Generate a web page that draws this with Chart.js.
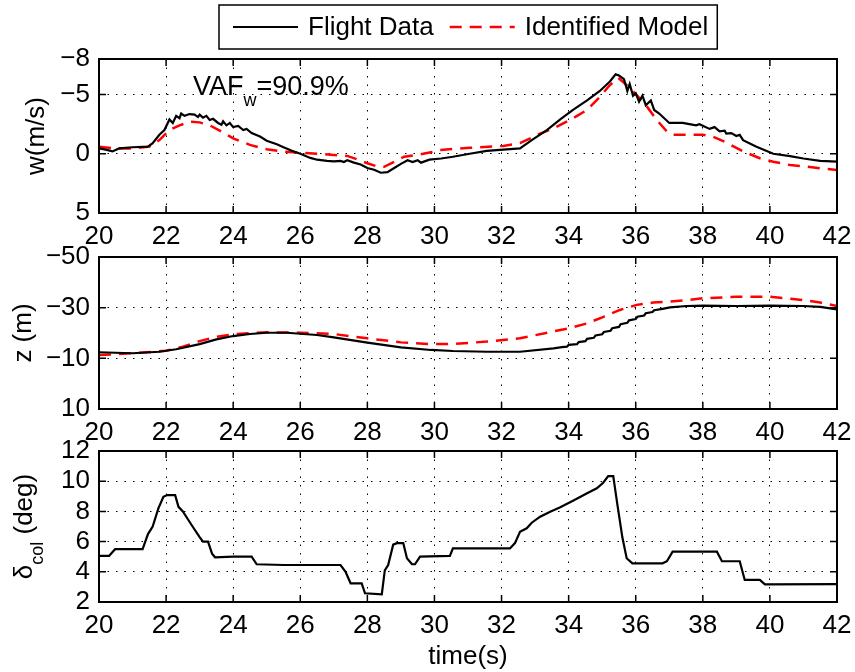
<!DOCTYPE html>
<html>
<head>
<meta charset="utf-8">
<script src="https://cdn.jsdelivr.net/npm/chart.js@4.4.0/dist/chart.umd.min.js"></script>
<style>
  body { margin: 0; background: #fff; }
  #wrap { position: relative; width: 855px; height: 672px; }
  #wrap canvas { position: absolute; left: 0; top: 0; }
</style>
</head>
<body>
<div id="wrap">
  <canvas id="chartW" width="855" height="672"></canvas>
  <canvas id="chartZ" width="855" height="672"></canvas>
  <canvas id="chartCol" width="855" height="672"></canvas>
</div>
<script>
// time axis
const timeMin = 20, timeMax = 42, timeStep = 2;

// tick labels on the y axes
const wTicks = [-8, -5, 0, 5];
const zTicks = [-50, -30, -10, 10];
const colTicks = [2, 4, 6, 8, 10, 12];

// vertical velocity w (m/s), [time, value]
const wFlight = [
  [20.0,-0.45],[20.2,-0.35],[20.4,-0.2],[20.6,-0.45],[21.0,-0.55],[21.46,-0.6],[21.6,-0.9],[21.8,-1.6],
  [21.95,-2.0],[22.1,-2.9],[22.2,-2.6],[22.3,-3.2],[22.4,-3.0],[22.45,-3.4],[22.55,-3.2],[22.7,-3.35],
  [22.85,-3.3],[22.95,-3.1],[23.0,-3.3],[23.1,-3.05],[23.2,-3.2],[23.3,-2.85],[23.4,-2.95],[23.55,-2.6],
  [23.65,-2.45],[23.7,-2.75],[23.8,-2.4],[23.9,-2.6],[24.0,-2.25],[24.15,-2.35],[24.3,-2.0],[24.4,-2.1],
  [24.55,-1.75],[24.8,-1.45],[25.0,-1.1],[25.3,-0.8],[25.5,-0.55],[25.75,-0.25],[26.0,0.0],[26.3,0.35],
  [26.5,0.5],[26.8,0.6],[27.0,0.65],[27.2,0.6],[27.3,0.7],[27.4,0.55],[27.6,0.75],[27.8,0.9],[28.0,1.2],
  [28.2,1.35],[28.4,1.6],[28.6,1.55],[28.8,1.2],[29.0,0.85],[29.2,0.55],[29.35,0.7],[29.5,0.55],
  [29.6,0.75],[29.85,0.5],[30.2,0.4],[30.55,0.25],[31.05,0.0],[31.56,-0.25],[32.05,-0.35],[32.55,-0.45],
  [32.9,-1.15],[33.35,-2.0],[33.75,-2.9],[34.13,-3.7],[34.55,-4.5],[34.93,-5.3],[35.23,-6.1],[35.4,-6.7],
  [35.5,-6.6],[35.65,-6.3],[35.75,-5.3],[35.82,-5.9],[35.92,-4.9],[36.0,-5.1],[36.1,-4.4],[36.2,-4.9],
  [36.3,-4.1],[36.45,-4.5],[36.55,-3.7],[36.7,-3.4],[37.0,-2.6],[37.4,-2.6],[37.6,-2.5],[37.8,-2.4],
  [37.9,-2.5],[38.2,-2.1],[38.35,-2.25],[38.5,-1.9],[38.65,-1.95],[38.7,-1.7],[38.85,-1.75],[39.0,-1.5],
  [39.1,-1.6],[39.2,-1.15],[39.6,-0.6],[40.1,0.0],[40.6,0.2],[41.0,0.4],[41.5,0.6],[42.0,0.67]
];
const wModel = [
  [20.0,-0.6],[20.5,-0.45],[21.0,-0.45],[21.5,-0.6],[21.8,-1.15],[22.1,-2.0],[22.4,-2.4],[22.7,-2.7],
  [23.0,-2.65],[23.3,-2.4],[23.6,-1.95],[24.0,-1.3],[24.5,-0.75],[25.0,-0.38],[25.5,-0.18],[26.0,-0.1],
  [26.5,0.0],[27.0,0.1],[27.4,0.18],[27.7,0.47],[28.0,0.8],[28.3,1.08],[28.5,1.1],[28.8,0.67],[29.1,0.25],
  [29.5,0.1],[29.85,-0.1],[30.17,-0.32],[31.05,-0.5],[32.05,-0.66],[32.55,-0.9],[33.15,-1.7],[33.55,-2.15],
  [34.04,-2.85],[34.55,-3.7],[34.93,-4.8],[35.23,-5.8],[35.48,-6.4],[35.73,-5.8],[36.03,-4.96],[36.33,-4.0],
  [36.63,-2.85],[36.93,-1.87],[37.1,-1.6],[37.52,-1.6],[38.0,-1.6],[38.3,-1.45],[38.7,-0.95],[39.2,-0.2],
  [39.7,0.38],[40.1,0.67],[40.6,0.95],[41.1,1.09],[41.5,1.22],[42.0,1.37]
];

// height z (m), [time, value]
const zFlight = [
  [20.0,-12.4],[21.0,-12.0],[21.8,-12.6],[22.3,-13.6],[23.0,-15.6],[23.5,-17.5],[24.0,-18.8],[24.5,-19.6],
  [25.0,-20.1],[25.6,-20.1],[26.5,-19.2],[27.0,-18.3],[28.0,-16.2],[29.0,-14.3],[29.9,-13.3],[30.55,-12.9],
  [31.56,-12.6],[32.55,-12.6],[33.55,-13.9],[33.8,-14.4],[33.95,-14.6],[34.0,-15.3],[34.25,-15.6],
  [34.3,-16.4],[34.5,-16.8],[34.55,-17.7],[34.75,-18.1],[34.8,-19.0],[35.0,-19.5],[35.05,-20.4],
  [35.25,-20.9],[35.3,-21.9],[35.5,-22.4],[35.55,-23.5],[35.75,-24.0],[35.8,-25.0],[36.0,-25.5],
  [36.05,-26.4],[36.25,-26.9],[36.3,-27.8],[36.5,-28.3],[36.55,-29.0],[36.8,-29.5],[37.02,-30.1],
  [37.52,-30.65],[38.0,-30.8],[39.0,-30.65],[40.0,-30.8],[41.0,-30.65],[41.5,-30.3],[42.0,-29.3]
];
const zModel = [
  [20.0,-11.3],[21.0,-12.0],[22.0,-13.0],[22.5,-14.6],[23.0,-16.8],[23.5,-18.5],[24.0,-19.5],[25.0,-20.3],
  [26.0,-20.1],[27.0,-19.6],[28.0,-17.9],[29.0,-16.3],[29.85,-15.65],[30.55,-15.65],[31.56,-16.6],
  [32.55,-17.9],[33.5,-20.5],[34.0,-21.8],[34.55,-23.8],[35.04,-26.4],[35.53,-29.1],[36.03,-31.1],
  [36.52,-32.0],[37.02,-32.4],[37.52,-33.0],[38.0,-33.7],[39.0,-34.3],[40.0,-34.3],[40.5,-33.7],
  [41.0,-33.0],[41.5,-32.0],[42.0,-30.65]
];

// collective input delta_col (deg), [time, value]
const deltaCol = [
  [20.0,5.05],[20.3,5.05],[20.48,5.5],[21.3,5.5],[21.46,6.5],[21.6,7.0],[21.77,8.2],[21.92,8.97],
  [22.03,9.08],[22.27,9.08],[22.37,8.3],[22.5,8.0],[22.76,7.1],[23.0,6.3],[23.1,6.0],[23.25,6.0],
  [23.37,5.2],[23.46,4.96],[24.0,5.0],[24.55,5.0],[24.7,4.5],[25.5,4.45],[27.2,4.45],[27.35,4.0],
  [27.5,3.24],[27.83,3.24],[27.93,2.58],[28.43,2.5],[28.52,4.1],[28.62,4.45],[28.77,5.8],[28.88,5.9],
  [29.07,5.9],[29.18,4.9],[29.33,4.5],[29.42,4.5],[29.57,5.0],[30.46,5.05],[30.55,5.55],[32.25,5.55],
  [32.4,5.9],[32.55,6.65],[32.75,6.88],[32.9,7.25],[33.15,7.65],[33.45,7.98],[33.75,8.27],[34.13,8.7],
  [34.55,9.2],[34.84,9.53],[35.03,9.9],[35.18,10.34],[35.33,10.34],[35.45,8.5],[35.6,6.3],[35.73,4.9],
  [35.9,4.56],[36.8,4.56],[36.93,4.7],[37.1,5.33],[38.42,5.33],[38.57,4.7],[39.1,4.7],[39.25,3.46],
  [39.7,3.46],[39.85,3.17],[42.0,3.19]
];

const seriesNames = ["Flight Data", "Identified Model"];
const vafText = ["VAF", "w", "=90.9%"];

const FONT = "'Liberation Sans', Arial, Helvetica, sans-serif";
Chart.defaults.font.family = FONT;
Chart.defaults.color = "#000";

const W = 855, H = 672;
const plotLeft = 99, plotRight = 837;

function pts(arr) {
  return arr.map(p => ({ x: p[0], y: p[1] }));
}
function flightSet(arr) {
  return { label: seriesNames[0], data: pts(arr), borderColor: "#000", borderWidth: 2.2,
           pointRadius: 0, tension: 0, fill: false };
}
function modelSet(arr) {
  return { label: seriesNames[1], data: pts(arr), borderColor: "#ff0000", borderWidth: 2.5,
           borderDash: [12, 8], pointRadius: 0, tension: 0, fill: false };
}
function fmt(v) {
  return String(v).replace("-", "\u2212");
}

// box round the plot with the small inward ticks on all four sides
const framePlugin = {
  id: "frame",
  afterDatasetsDraw(chart) {
    const { ctx, chartArea: a, scales } = chart;
    const len = 7;
    ctx.save();
    ctx.strokeStyle = "#000";
    ctx.lineWidth = 1.5;
    ctx.beginPath();
    scales.x.ticks.forEach(t => {
      const px = scales.x.getPixelForValue(t.value);
      ctx.moveTo(px, a.bottom); ctx.lineTo(px, a.bottom - len);
      ctx.moveTo(px, a.top); ctx.lineTo(px, a.top + len);
    });
    scales.y.ticks.forEach(t => {
      const py = scales.y.getPixelForValue(t.value);
      ctx.moveTo(a.left, py); ctx.lineTo(a.left + len, py);
      ctx.moveTo(a.right, py); ctx.lineTo(a.right - len, py);
    });
    ctx.stroke();
    ctx.lineWidth = 2;
    ctx.strokeRect(a.left, a.top, a.right - a.left, a.bottom - a.top);
    ctx.restore();
  }
};

// rotated y title with optional subscript parts
const yTitlePlugin = {
  id: "yTitle",
  afterDraw(chart, args, o) {
    const { ctx, chartArea: a } = chart;
    const main = "26px " + FONT, sub = "18px " + FONT;
    ctx.save();
    ctx.fillStyle = "#000";
    ctx.textBaseline = "alphabetic";
    ctx.textAlign = "left";
    let total = 0;
    o.parts.forEach(p => { ctx.font = p.sub ? sub : main; total += ctx.measureText(p.text).width; });
    ctx.translate(o.x, (a.top + a.bottom) / 2);
    ctx.rotate(-Math.PI / 2);
    let cx = -total / 2;
    o.parts.forEach(p => {
      ctx.font = p.sub ? sub : main;
      ctx.fillText(p.text, cx, p.sub ? 11 : 0);
      cx += ctx.measureText(p.text).width;
    });
    ctx.restore();
  }
};

// legend with a box, drawn above the first panel
const legendPlugin = {
  id: "boxLegend",
  afterDraw(chart, args, o) {
    const ctx = chart.ctx;
    const dsets = chart.data.datasets;
    ctx.save();
    ctx.font = "26px " + FONT;
    const lineLen = 65, padL = 14, gapLine = 10, gapItem = 16, padR = 9;
    let width = padL + padR;
    dsets.forEach((d, i) => {
      width += lineLen + gapLine + ctx.measureText(d.label).width + (i < dsets.length - 1 ? gapItem : 0);
    });
    const cxBox = (chart.chartArea.left + chart.chartArea.right) / 2;
    const left = Math.round(cxBox - width / 2);
    const top = o.top, height = o.height, mid = top + height / 2;
    ctx.fillStyle = "#fff";
    ctx.fillRect(left, top, width, height);
    ctx.strokeStyle = "#000";
    ctx.lineWidth = 1.5;
    ctx.strokeRect(left, top, width, height);
    let x = left + padL;
    dsets.forEach((d, i) => {
      ctx.save();
      ctx.strokeStyle = d.borderColor;
      ctx.lineWidth = d.borderWidth;
      ctx.setLineDash(d.borderDash || []);
      ctx.beginPath();
      ctx.moveTo(x, mid); ctx.lineTo(x + lineLen, mid);
      ctx.stroke();
      ctx.restore();
      x += lineLen + gapLine;
      ctx.fillStyle = "#000";
      ctx.textBaseline = "middle";
      ctx.fillText(d.label, x, mid + 1);
      x += ctx.measureText(d.label).width + gapItem;
    });
    ctx.restore();
  }
};

// VAF annotation, placed in data coordinates
const vafPlugin = {
  id: "vaf",
  afterDraw(chart, args, o) {
    const { ctx, scales } = chart;
    let x = scales.x.getPixelForValue(o.t);
    const y = scales.y.getPixelForValue(o.v);
    ctx.save();
    ctx.fillStyle = "#000";
    ctx.textBaseline = "alphabetic";
    ctx.font = "27px " + FONT;
    ctx.fillText(vafText[0], x, y);
    x += ctx.measureText(vafText[0]).width;
    ctx.font = "18px " + FONT;
    ctx.fillText(vafText[1], x, y + 11);
    x += ctx.measureText(vafText[1]).width;
    ctx.font = "27px " + FONT;
    ctx.fillText(vafText[2], x, y);
    ctx.restore();
  }
};

function makePanel(id, p) {
  return new Chart(document.getElementById(id), {
    type: "line",
    data: { datasets: p.datasets },
    options: {
      responsive: false,
      animation: false,
      events: [],
      layout: { padding: { left: 0, right: W - plotRight, top: p.top, bottom: H - p.bottom - p.xHeight } },
      plugins: {
        legend: { display: false },
        tooltip: { enabled: false },
        yTitle: { parts: p.yTitle, x: p.yTitleX },
        boxLegend: { top: 5, height: 44 },
        vaf: { t: 22.8, v: -5 }
      },
      scales: {
        x: {
          type: "linear",
          min: timeMin, max: timeMax,
          // fixed height, and no extra side room for the end labels
          afterFit: s => { s.height = p.xHeight; s.paddingLeft = 0; s.paddingRight = 0; },
          ticks: { stepSize: timeStep, padding: 8, font: { size: 26 }, color: "#000",
                   maxRotation: 0, autoSkip: false },
          grid: { color: "#000", lineWidth: 1, drawTicks: false },
          border: { display: false, dash: [1.5, 7] },
          title: p.xTitle ? { display: true, text: p.xTitle, font: { size: 26 }, color: "#000",
                              padding: { top: 0, bottom: 0 } } : { display: false }
        },
        y: {
          type: "linear",
          min: p.yTicks[0], max: p.yTicks[p.yTicks.length - 1],
          reverse: p.reverse,
          afterFit: s => { s.width = plotLeft; },
          afterBuildTicks: s => { s.ticks = p.yTicks.map(v => ({ value: v })); },
          ticks: { padding: 9, font: { size: 26 }, color: "#000", autoSkip: false, callback: v => fmt(v) },
          grid: { color: "#000", lineWidth: 1, drawTicks: false },
          border: { display: false, dash: [1.5, 7] }
        }
      }
    },
    plugins: [framePlugin, yTitlePlugin].concat(p.extra || [])
  });
}

makePanel("chartW", {
  top: 59, bottom: 213, xHeight: 40,
  yTicks: wTicks, reverse: true,
  yTitle: [{ text: "w(m/s)" }], yTitleX: 44,
  datasets: [flightSet(wFlight), modelSet(wModel)],
  extra: [legendPlugin, vafPlugin]
});

makePanel("chartZ", {
  top: 257, bottom: 409, xHeight: 40,
  yTicks: zTicks, reverse: true,
  yTitle: [{ text: "z (m)" }], yTitleX: 31,
  datasets: [flightSet(zFlight), modelSet(zModel)]
});

makePanel("chartCol", {
  top: 451, bottom: 602, xHeight: 70,
  yTicks: colTicks, reverse: false,
  yTitle: [{ text: "\u03b4" }, { text: "col", sub: true }, { text: " (deg)" }], yTitleX: 32,
  xTitle: "time(s)",
  datasets: [flightSet(deltaCol)]
});
</script>
</body>
</html>
